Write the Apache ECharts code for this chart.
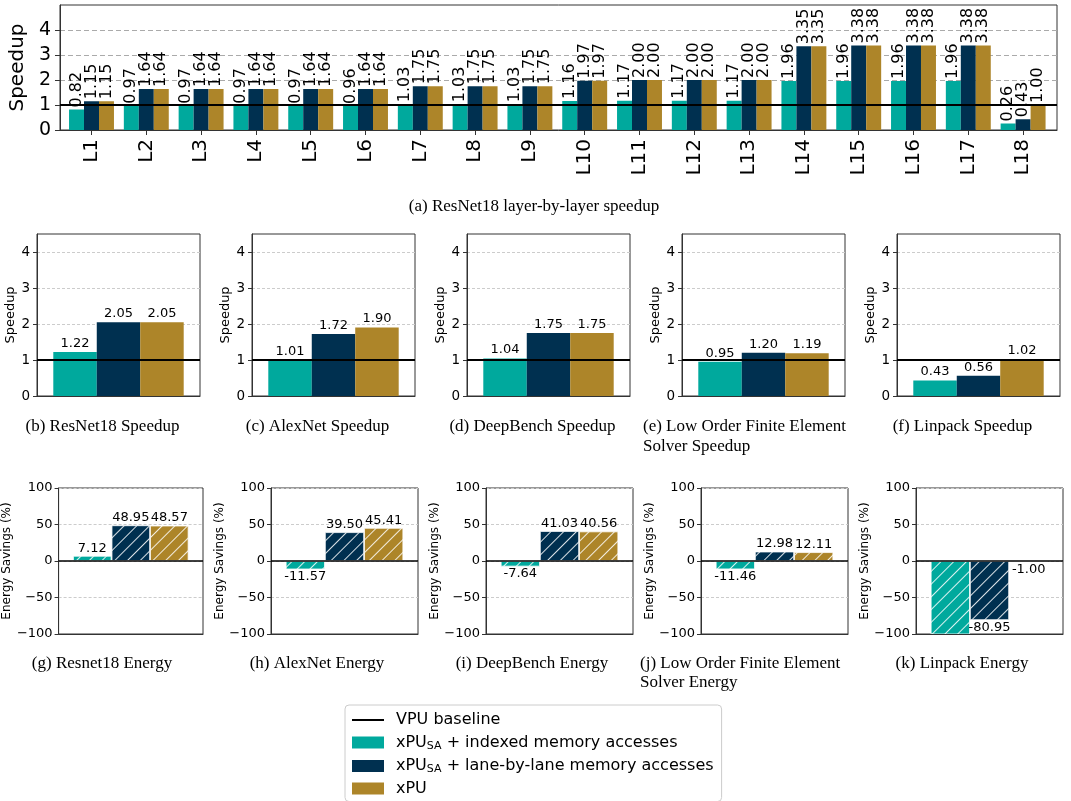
<!DOCTYPE html>
<html><head><meta charset="utf-8">
<script src="https://cdn.jsdelivr.net/npm/echarts@6/dist/echarts.min.js"></script>
<style>html,body{margin:0;padding:0;background:#fff}#c{width:1071px;height:801px}</style>
</head><body><div id="c"></div>
<script>
// ---------------- data ----------------
const layers = ['L1','L2','L3','L4','L5','L6','L7','L8','L9','L10','L11','L12','L13','L14','L15','L16','L17','L18'];
const layerIndexed = [0.82,0.97,0.97,0.97,0.97,0.96,1.03,1.03,1.03,1.16,1.17,1.17,1.17,1.96,1.96,1.96,1.96,0.26];
const layerLane    = [1.15,1.64,1.64,1.64,1.64,1.64,1.75,1.75,1.75,1.97,2.00,2.00,2.00,3.35,3.38,3.38,3.38,0.43];
const layerXpu     = [1.15,1.64,1.64,1.64,1.64,1.64,1.75,1.75,1.75,1.97,2.00,2.00,2.00,3.35,3.38,3.38,3.38,1.00];

const benchmarks = ['ResNet18','AlexNet','DeepBench','Low Order Finite Element Solver','Linpack'];
const speedupIndexed = [1.22, 1.01, 1.04, 0.95, 0.43];
const speedupLane    = [2.05, 1.72, 1.75, 1.20, 0.56];
const speedupXpu     = [2.05, 1.90, 1.75, 1.19, 1.02];
const energyIndexed  = [7.12, -11.57, -7.64, -11.46, -130];   // Linpack value is below the -100 limit
const energyLane     = [48.95, 39.50, 41.03, 12.98, -80.95];
const energyXpu      = [48.57, 45.41, 40.56, 12.11, -1.00];

const layerTicks   = [0, 1, 2, 3, 4];
const speedupTicks = [0, 1, 2, 3, 4];
const energyTicks  = [-100, -50, 0, 50, 100];
const baselineSpeedup = 1;
const baselineEnergy = 0;

const seriesNames = ['VPU baseline', 'xPU_SA + indexed memory accesses', 'xPU_SA + lane-by-lane memory accesses', 'xPU'];
const captionA = '(a) ResNet18 layer-by-layer speedup';
const speedupCaptions = [['(b) ResNet18 Speedup'], ['(c) AlexNet Speedup'], ['(d) DeepBench Speedup'], ['(e) Low Order Finite Element', 'Solver Speedup'], ['(f) Linpack Speedup']];
const energyCaptions  = [['(g) Resnet18 Energy'], ['(h) AlexNet Energy'], ['(i) DeepBench Energy'], ['(j) Low Order Finite Element', 'Solver Energy'], ['(k) Linpack Energy']];

// ---------------- styles ----------------
const COLORS = ['#00a99d', '#003050', '#ad8529'];
const FONT = 'DejaVu Sans';
const SERIF = 'Liberation Serif';
const SPINE = '#333';
const hatch = {symbol: 'rect', symbolSize: 1, color: 'rgba(255,255,255,0.85)', dashArrayX: [1, 0], dashArrayY: [1, 8], rotation: -Math.PI / 4};
const fmt2 = p => Number(p.value).toFixed(2);
const minusFmt = v => v < 0 ? '\u2212' + (-v) : String(v);

const grids = [], xAxes = [], yAxes = [], series = [], graphics = [];

// ---- top chart: frame grid (0) + bars grid (1)
grids.push({left: 55, top: 5, width: 1002, height: 125, show: true, borderColor: SPINE, borderWidth: 1});
grids.push({left: 64.1, top: 5, width: 986.4, height: 125});
xAxes.push({gridIndex: 0, type: 'value', min: 0, max: 1, z: 3,
  axisLine: {show: true, onZero: false, lineStyle: {color: SPINE, width: 1}}, axisTick: {show: false}, axisLabel: {show: false}, splitLine: {show: false}});
xAxes.push({gridIndex: 1, type: 'category', data: layers,
  axisLine: {show: false}, axisTick: {show: true, alignWithLabel: true, length: 5, lineStyle: {color: SPINE}},
  axisLabel: {rotate: 90, fontSize: 20, fontFamily: FONT, color: '#000', margin: 9}});
yAxes.push({gridIndex: 0, type: 'value', min: 0, max: 5, interval: 1,
  name: 'Speedup', nameLocation: 'middle', nameGap: 31, nameTextStyle: {fontSize: 20, fontFamily: FONT, color: '#000'},
  axisLine: {show: true, lineStyle: {color: SPINE, width: 1}},
  axisTick: {show: true, length: 5, lineStyle: {color: SPINE}, customValues: layerTicks},
  axisLabel: {fontSize: 19, fontFamily: FONT, color: '#000', margin: 9, customValues: layerTicks, formatter: v => v > 4 ? '' : String(v)},
  splitLine: {show: true, lineStyle: {color: '#aaa', type: [5, 3], width: 1}}});
yAxes.push({gridIndex: 1, type: 'value', min: 0, max: 5, show: false});
[layerIndexed, layerLane, layerXpu].forEach((arr, k) => {
  series.push({type: 'bar', name: seriesNames[k + 1], xAxisIndex: 1, yAxisIndex: 1, data: arr,
    barGap: '0%', barCategoryGap: '18%', itemStyle: {color: COLORS[k]},
    label: {show: true, position: 'top', rotate: 90, align: 'left', verticalAlign: 'middle', distance: 2,
      fontSize: 16, fontFamily: FONT, color: '#000', formatter: fmt2}});
});
series.push({type: 'line', name: seriesNames[0], xAxisIndex: 0, yAxisIndex: 0, z: 5, symbol: 'none', showSymbol: false,
  data: [[0, baselineSpeedup], [1, baselineSpeedup]], itemStyle: {color: '#000'}, lineStyle: {color: '#000', width: 2}, silent: true});
graphics.push({type: 'text', x: 534, y: 207, style: {text: captionA, font: '17px "' + SERIF + '"', fill: '#000', textAlign: 'center', textVerticalAlign: 'middle'}});

// ---- row 2: speedup
benchmarks.forEach((b, i) => {
  const gi = grids.length;
  grids.push({left: 37 + 215 * i, top: 234, width: 163, height: 162, show: true, borderColor: SPINE, borderWidth: 1});
  xAxes.push({gridIndex: gi, type: 'category', data: [b], z: 3,
    axisLine: {show: true, onZero: false, lineStyle: {color: SPINE}}, axisTick: {show: false}, axisLabel: {show: false}});
  yAxes.push({gridIndex: gi, type: 'value', min: 0, max: 4.5, interval: 1,
    name: 'Speedup', nameLocation: 'middle', nameGap: 18, nameTextStyle: {fontSize: 13, fontFamily: FONT, color: '#000'},
    axisLine: {show: true, lineStyle: {color: SPINE}},
    axisTick: {show: true, length: 4, lineStyle: {color: SPINE}, customValues: speedupTicks},
    axisLabel: {fontSize: 13.5, fontFamily: FONT, color: '#000', margin: 7, customValues: speedupTicks, formatter: v => Number.isInteger(v) ? String(v) : ''},
    splitLine: {show: true, lineStyle: {color: '#ccc', type: [3, 2], width: 1}}});
  [speedupIndexed, speedupLane, speedupXpu].forEach((arr, k) => {
    const s = {type: 'bar', name: seriesNames[k + 1], xAxisIndex: gi, yAxisIndex: gi, data: [arr[i]],
      barGap: '0%', barCategoryGap: '20%', itemStyle: {color: COLORS[k]},
      label: {show: true, position: 'top', distance: 2, fontSize: 13, fontFamily: FONT, color: '#000', formatter: fmt2}};
    if (k === 0) s.markLine = {silent: true, symbol: 'none', z: 6, label: {show: false}, animation: false,
      lineStyle: {color: '#000', width: 2, type: 'solid'}, data: [{yAxis: baselineSpeedup}]};
    series.push(s);
  });
  const cap = speedupCaptions[i];
  if (cap.length === 1) {
    graphics.push({type: 'text', x: 102.5 + 215 * i, y: 427, style: {text: cap[0], font: '17px "' + SERIF + '"', fill: '#000', textAlign: 'center', textVerticalAlign: 'middle'}});
  } else {
    cap.forEach((t, j) => graphics.push({type: 'text', x: 643, y: 427 + 19.5 * j, style: {text: t, font: '17px "' + SERIF + '"', fill: '#000', textAlign: 'left', textVerticalAlign: 'middle'}}));
  }
});

// ---- row 3: energy
const energyMin = energyTicks[0], energyMax = energyTicks[energyTicks.length - 1];
benchmarks.forEach((b, i) => {
  const gi = grids.length;
  grids.push({left: 56 + 215 * i, top: 488, width: 147, height: 146, show: true, borderColor: SPINE, borderWidth: 1});
  xAxes.push({gridIndex: gi, type: 'category', data: [b], z: 3,
    axisLine: {show: true, onZero: false, lineStyle: {color: SPINE}}, axisTick: {show: false}, axisLabel: {show: false}});
  yAxes.push({gridIndex: gi, type: 'value', min: energyMin, max: energyMax, interval: 50,
    name: 'Energy Savings (%)', nameLocation: 'middle', nameGap: 43, nameTextStyle: {fontSize: 12, fontFamily: FONT, color: '#000'},
    axisLine: {show: true, lineStyle: {color: SPINE}},
    axisTick: {show: true, length: 4, lineStyle: {color: SPINE}},
    axisLabel: {fontSize: 13, fontFamily: FONT, color: '#000', margin: 6, formatter: minusFmt},
    splitLine: {show: true, lineStyle: {color: '#ccc', type: [3, 2], width: 1}}});
  [energyIndexed, energyLane, energyXpu].forEach((arr, k) => {
    const v = arr[i];
    const s = {type: 'bar', name: seriesNames[k + 1], xAxisIndex: gi, yAxisIndex: gi,
      data: [{value: v, label: {show: v >= energyMin && v <= energyMax, position: v < 0 ? 'bottom' : 'top'}}],
      barGap: '0%', barCategoryGap: '20%', clip: true,
      itemStyle: {color: COLORS[k], decal: hatch, borderColor: 'rgba(255,255,255,0.6)', borderWidth: 0.8},
      label: {show: true, distance: 1, fontSize: 13, fontFamily: FONT, color: '#000', formatter: fmt2}};
    if (k === 0) s.markLine = {silent: true, symbol: 'none', z: 6, label: {show: false}, animation: false,
      lineStyle: {color: '#000', width: 1.5, type: 'solid'}, data: [{yAxis: baselineEnergy}]};
    series.push(s);
  });
  const cap = energyCaptions[i];
  if (cap.length === 1) {
    graphics.push({type: 'text', x: 102 + 215 * i, y: 664, style: {text: cap[0], font: '17px "' + SERIF + '"', fill: '#000', textAlign: 'center', textVerticalAlign: 'middle'}});
  } else {
    cap.forEach((t, j) => graphics.push({type: 'text', x: 640, y: 664 + 19 * j, style: {text: t, font: '17px "' + SERIF + '"', fill: '#000', textAlign: 'left', textVerticalAlign: 'middle'}}));
  }
});

const legendFmt = name => name.startsWith('xPU_SA')
  ? '{n|xPU}{s|SA}{n|' + name.slice(6) + '}'
  : '{n|' + name + '}';

const chart = echarts.init(document.getElementById('c'), null, {renderer: 'canvas'});
chart.setOption({
  animation: false,
  backgroundColor: '#fff',
  grid: grids, xAxis: xAxes, yAxis: yAxes, series: series,
  graphic: graphics,
  legend: {
    orient: 'vertical', left: 345, top: 705, height: 140,
    padding: [7, 8, 5, 6], itemWidth: 32, itemHeight: 12, itemGap: 5.5,
    borderColor: '#ccc', borderWidth: 1, borderRadius: 4, backgroundColor: '#fff',
    selectedMode: false,
    data: [{name: seriesNames[0], itemStyle: {opacity: 0}, lineStyle: {color: '#000', width: 2}},
           {name: seriesNames[1], icon: 'rect'}, {name: seriesNames[2], icon: 'rect'}, {name: seriesNames[3], icon: 'rect'}],
    formatter: legendFmt,
    textStyle: {fontSize: 16, fontFamily: FONT, color: '#000', padding: [0, 0, 0, 7],
      rich: {n: {fontSize: 16, fontFamily: FONT, color: '#000', lineHeight: 19},
             s: {fontSize: 11, fontFamily: FONT, color: '#000', lineHeight: 19, padding: [7, 0, 0, 0]}}}
  }
});
</script></body></html>
